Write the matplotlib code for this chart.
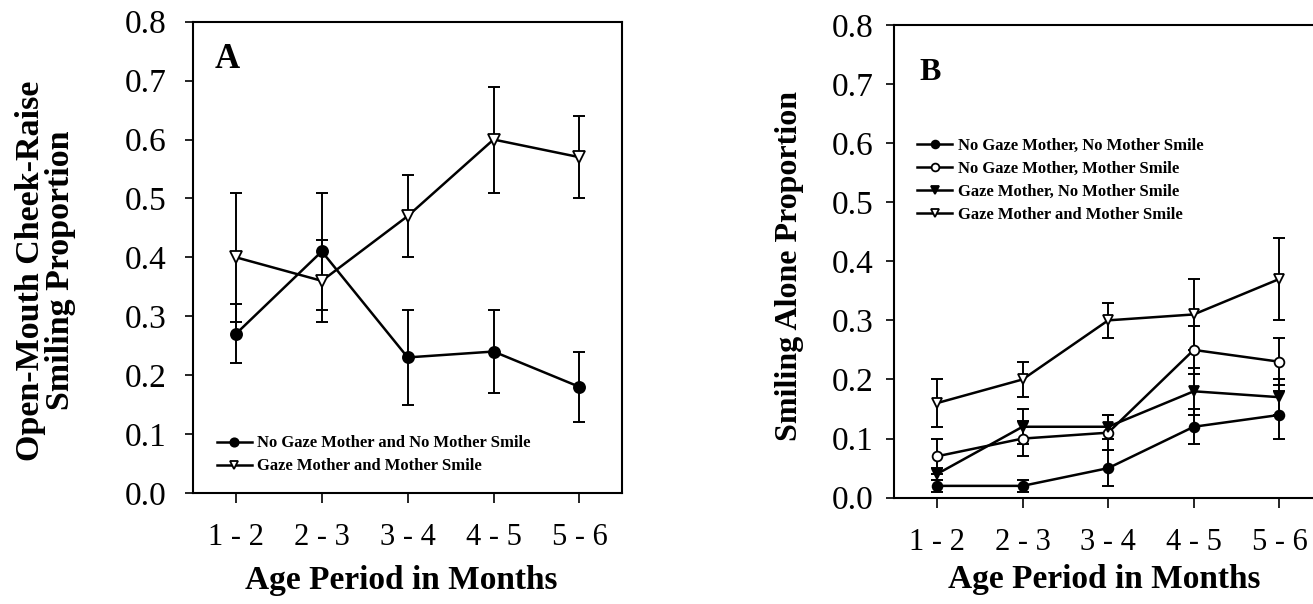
import numpy as np
import matplotlib
matplotlib.use('Agg')
from matplotlib import pyplot as plt

plt.rcParams['font.family'] = ['Liberation Serif', 'DejaVu Serif']

periods = ['1 - 2', '2 - 3', '3 - 4', '4 - 5', '5 - 6']
yticks = [0.0, 0.1, 0.2, 0.3, 0.4, 0.5, 0.6, 0.7, 0.8]

# panel A
a_nogaze_nosmile = [0.27, 0.41, 0.23, 0.24, 0.18]
a_nogaze_nosmile_err = [0.05, 0.10, 0.08, 0.07, 0.06]
a_gaze_smile = [0.40, 0.36, 0.47, 0.60, 0.57]
a_gaze_smile_err = [0.11, 0.07, 0.07, 0.09, 0.07]

# panel B
b_nogaze_nosmile = [0.02, 0.02, 0.05, 0.12, 0.14]
b_nogaze_nosmile_err = [0.01, 0.01, 0.03, 0.03, 0.04]
b_nogaze_smile = [0.07, 0.10, 0.11, 0.25, 0.23]
b_nogaze_smile_err = [0.03, 0.03, 0.03, 0.04, 0.04]
b_gaze_nosmile = [0.04, 0.12, 0.12, 0.18, 0.17]
b_gaze_nosmile_err = [0.01, 0.03, 0.02, 0.04, 0.03]
b_gaze_smile = [0.16, 0.20, 0.30, 0.31, 0.37]
b_gaze_smile_err = [0.04, 0.03, 0.03, 0.06, 0.07]

x = np.arange(1, len(periods) + 1)


def draw_series(ax, y, err, marker, face, label, ms):
    ax.errorbar(x, y, yerr=err, fmt='none', ecolor='black', elinewidth=1.4,
                capsize=4, capthick=1.4, zorder=2)
    ax.plot(x, y, color='black', lw=1.8, marker=marker, ms=ms,
            mfc=face, mec='black', mew=1.3, label=label, zorder=3)


def style_axes(ax, ylabel, ylab_size, ylab_pos, xlab_pos, ypad):
    ax.set_xlim(0.5, 5.5)
    ax.set_ylim(0, 0.8)
    ax.set_xticks(x)
    ax.set_xticklabels(periods)
    ax.set_yticks(yticks)
    ax.set_yticklabels(['%.1f' % t for t in yticks])
    ax.tick_params(axis='both', direction='out', width=1.2)
    ax.tick_params(axis='y', length=6, pad=ypad, labelsize=24)
    ax.tick_params(axis='x', length=7, pad=15, labelsize=22)
    for s in ax.spines.values():
        s.set_linewidth(1.5)
    ax.set_ylabel(ylabel, fontsize=ylab_size, fontweight='bold', va='center',
                  linespacing=0.95)
    ax.yaxis.set_label_coords(*ylab_pos)
    ax.set_xlabel('Age Period in Months', fontsize=24, fontweight='bold', va='center')
    ax.xaxis.set_label_coords(*xlab_pos)


fig = plt.figure(figsize=(13.13, 6.04), dpi=100)

axA = fig.add_axes([0.147, 0.184, 0.327, 0.780])
draw_series(axA, a_nogaze_nosmile, a_nogaze_nosmile_err, 'o', 'black',
            'No Gaze Mother and No Mother Smile', 8)
draw_series(axA, a_gaze_smile, a_gaze_smile_err, 'v', 'white',
            'Gaze Mother and Mother Smile', 8.5)
style_axes(axA, 'Open-Mouth Cheek-Raise\nSmiling Proportion', 24.5,
           (-0.343, 0.472), (0.486, -0.185), 13)
axA.text(0.05, 0.92, 'A', transform=axA.transAxes, fontsize=25, fontweight='bold',
         ha='left', va='center')
axA.legend(loc='lower left', bbox_to_anchor=(0.055, 0.039), frameon=False,
           borderpad=0, borderaxespad=0, handlelength=2.1, handletextpad=0.35,
           labelspacing=0.42, markerscale=0.75,
           prop={'size': 12, 'weight': 'bold'})

axB = fig.add_axes([0.681, 0.176, 0.326, 0.783])
draw_series(axB, b_nogaze_nosmile, b_nogaze_nosmile_err, 'o', 'black',
            'No Gaze Mother, No Mother Smile', 7)
draw_series(axB, b_nogaze_smile, b_nogaze_smile_err, 'o', 'white',
            'No Gaze Mother, Mother Smile', 7)
draw_series(axB, b_gaze_nosmile, b_gaze_nosmile_err, 'v', 'black',
            'Gaze Mother, No Mother Smile', 7)
draw_series(axB, b_gaze_smile, b_gaze_smile_err, 'v', 'white',
            'Gaze Mother and Mother Smile', 7.5)
style_axes(axB, 'Smiling Alone Proportion', 23, (-0.245, 0.49), (0.49, -0.173), 9)
axB.text(0.06, 0.9, 'B', transform=axB.transAxes, fontsize=23, fontweight='bold',
         ha='left', va='center')
axB.legend(loc='upper left', bbox_to_anchor=(0.054, 0.761), frameon=False,
           borderpad=0, borderaxespad=0, handlelength=2.1, handletextpad=0.35,
           labelspacing=0.42, markerscale=0.8,
           prop={'size': 12, 'weight': 'bold'})

fig.savefig('out.png', dpi=100)
